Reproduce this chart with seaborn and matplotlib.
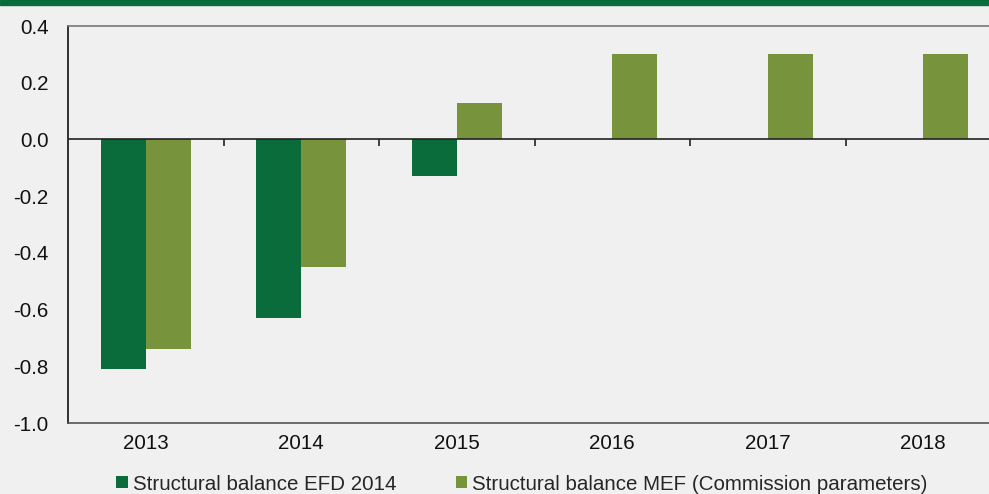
import numpy as np
import pandas as pd
import seaborn as sns
import matplotlib.pyplot as plt
from matplotlib.patches import Patch

years = ["2013", "2014", "2015", "2016", "2017", "2018"]
efd_2014 = [-0.81, -0.63, -0.13, np.nan, np.nan, np.nan]
mef_commission = [-0.74, -0.45, 0.13, 0.30, 0.30, 0.30]
series_names = ["Structural balance EFD 2014",
                "Structural balance MEF (Commission parameters)"]
y_ticks = [0.4, 0.2, 0.0, -0.2, -0.4, -0.6, -0.8, -1.0]

dark_green = "#0a6b3b"
olive_green = "#77933c"
bg = "#f0f0f0"
fs = 14.8

df = pd.DataFrame({
    "year": years * 2,
    "value": efd_2014 + mef_commission,
    "series": [series_names[0]] * len(years) + [series_names[1]] * len(years),
})

sns.set_theme(style="white")
plt.rcParams["font.family"] = ["Liberation Sans", "DejaVu Sans"]

fig = plt.figure(figsize=(9.89, 4.94), dpi=100, facecolor=bg)
ax = fig.add_axes([68 / 989, 71 / 494, (1001 - 68) / 989, 397 / 494])
ax.set_facecolor(bg)

sns.barplot(data=df, x="year", y="value", hue="series",
            palette=[dark_green, olive_green], width=0.58, gap=0,
            linewidth=0, saturation=1, legend=False, ax=ax)

ax.set_ylim(-1.0, 0.4)
ax.set_xlim(-0.5, len(years) - 0.5)
ax.set_yticks(y_ticks)
ax.set_yticklabels([f"{t:.1f}" for t in y_ticks])
ax.set_xlabel("")
ax.set_ylabel("")

# zero line with separators between year groups
ax.axhline(0, color="#222222", linewidth=1.2, zorder=3)
for i in range(len(years) - 1):
    ax.plot([i + 0.5, i + 0.5], [0, -0.022], color="#222222",
            linewidth=1.2, zorder=3, solid_capstyle="butt")

ax.spines["left"].set_color("#111111")
ax.spines["left"].set_linewidth(1.2)
ax.spines["bottom"].set_color("#555555")
ax.spines["bottom"].set_linewidth(1.2)
ax.spines["top"].set_color("#777777")
ax.spines["top"].set_linewidth(1.2)
ax.spines["right"].set_visible(False)

ax.tick_params(axis="y", direction="in", length=5, width=1.2,
               color="#222222", pad=14, labelsize=fs, labelcolor="#111111")
ax.tick_params(axis="x", length=0, pad=8, labelsize=fs, labelcolor="#111111")

# green band across the top
fig.patches.append(plt.Rectangle((0, 1 - 5 / 494), 1, 5 / 494,
                                 transform=fig.transFigure,
                                 color=dark_green, zorder=10))

handles = [Patch(facecolor=dark_green, edgecolor="none"),
           Patch(facecolor=olive_green, edgecolor="none")]
fig.legend(handles, series_names, loc="center", ncol=2,
           bbox_to_anchor=(522 / 989, 1 - 484 / 494), frameon=False,
           fontsize=fs, handlelength=0.55, handleheight=0.55,
           handletextpad=0.25, columnspacing=2.9, borderaxespad=0,
           borderpad=0)

fig.savefig("out.png", dpi=100, facecolor=bg)
